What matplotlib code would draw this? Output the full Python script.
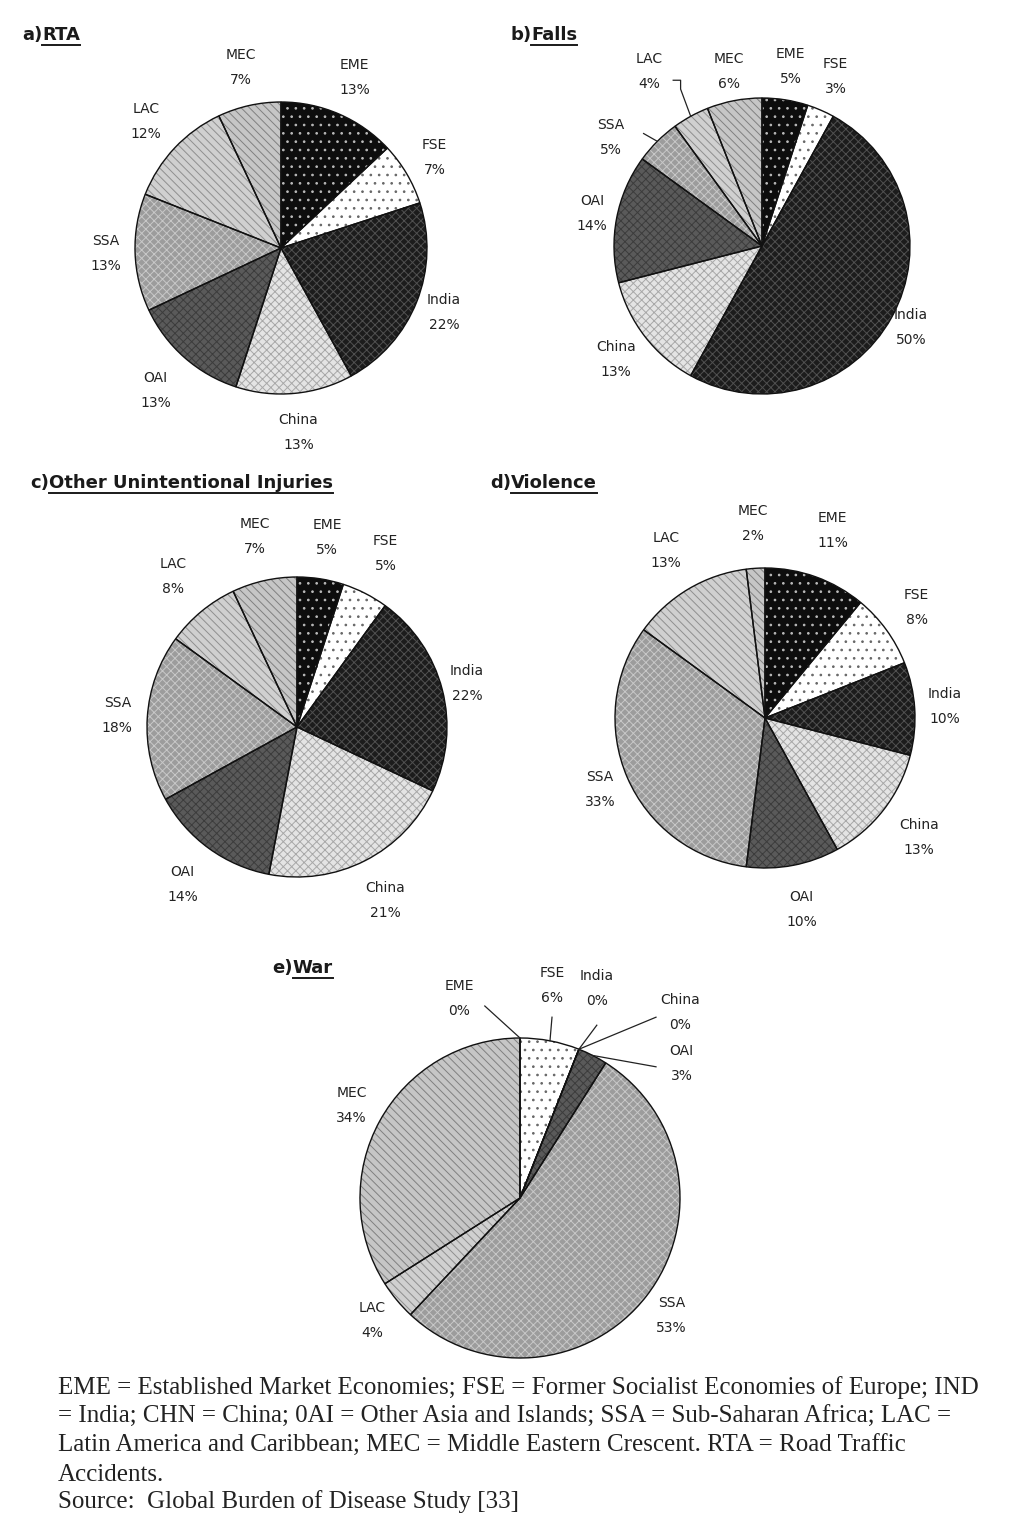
import numpy as np
import matplotlib
matplotlib.use('Agg')
from matplotlib import pyplot as plt
from matplotlib.lines import Line2D

W, H = 1015, 1530

regions = ['EME', 'FSE', 'India', 'China', 'OAI', 'SSA', 'LAC', 'MEC']

rta = [13, 7, 22, 13, 13, 13, 12, 7]
falls = [5, 3, 50, 13, 14, 5, 4, 6]
other_unint = [5, 5, 22, 21, 14, 18, 8, 7]
violence = [11, 8, 10, 13, 10, 33, 13, 2]
war = [0, 6, 0, 0, 3, 53, 4, 34]

panel_tags = ['a)', 'b)', 'c)', 'd)', 'e)']
panel_names = ['RTA', 'Falls', 'Other Unintentional Injuries', 'Violence', 'War']

notes = [
    'EME = Established Market Economies; FSE = Former Socialist Economies of Europe; IND',
    '= India; CHN = China; 0AI = Other Asia and Islands; SSA = Sub-Saharan Africa; LAC =',
    'Latin America and Caribbean; MEC = Middle Eastern Crescent. RTA = Road Traffic',
    'Accidents.',
    'Source:  Global Burden of Disease Study [33]',
]

# face colour, hatch, hatch colour for each region
fills = [
    ('#0d0d0d', '..', '#bbbbbb'),
    ('#ffffff', '..', '#666666'),
    ('#1c1c1c', 'xxxx', '#505050'),
    ('#e4e4e4', 'xxxx', '#a8a8a8'),
    ('#5a5a5a', 'xxxx', '#3c3c3c'),
    ('#9c9c9c', 'xxxx', '#c8c8c8'),
    ('#d0d0d0', '\\\\\\\\', '#8f8f8f'),
    ('#c6c6c6', '\\\\\\\\', '#808080'),
]

plt.rcParams['hatch.linewidth'] = 0.7

fig = plt.figure(figsize=(W / 100, H / 100), dpi=100)


def draw_pie(vals, cx, cy, r, ldist, moved, leaders):
    S = 1.7 * r
    ax = fig.add_axes([(cx - S) / W, 1 - (cy + S) / H, 2 * S / W, 2 * S / H])
    vals = np.array(vals, dtype=float)
    wedges, _ = ax.pie(vals, startangle=90, counterclock=False, radius=1,
                       wedgeprops=dict(linewidth=0))
    for w, (fc, hatch, hc) in zip(wedges, fills):
        w.set_facecolor(fc)
        w.set_hatch(hatch)
        w.set_edgecolor(hc)
    ax.pie(vals, startangle=90, counterclock=False, radius=1, colors=['none'] * len(vals),
           wedgeprops=dict(linewidth=1.0, edgecolor='#111111'))
    ax.set_xlim(-S / r, S / r)
    ax.set_ylim(-S / r, S / r)
    ax.axis('off')

    frac = vals / vals.sum()
    mid = np.cumsum(frac) - frac / 2
    for i, name in enumerate(regions):
        ang = np.deg2rad(90 - 360 * mid[i])
        d = ldist[i] if np.ndim(ldist) else ldist
        pos = (d * np.cos(ang), d * np.sin(ang))
        if i in moved:
            pos = moved[i]
        ax.text(pos[0], pos[1], f'{name}\n{int(vals[i])}%', ha='center', va='center',
                fontsize=10, linespacing=2.0, clip_on=False, color='#222222')
        if i in leaders:
            pts = leaders[i]
            xs = [np.cos(ang)] + [p[0] for p in pts]
            ys = [np.sin(ang)] + [p[1] for p in pts]
            ax.plot(xs, ys, color='#222222', lw=0.9, clip_on=False)
    return ax


draw_pie(rta, 281, 248, 146, [1.27, 1.22, 1.2, 1.27, 1.3, 1.2, 1.27, 1.27], {}, {})
draw_pie(falls, 762, 246, 148, [1.23, 1.25, 1.15, 1.25, 1.17, 1.25, 1.25, 1.2],
         {5: (-1.02, 0.73), 6: (-0.76, 1.18)},
         {5: [(-0.8, 0.76)], 6: [(-0.55, 1.06), (-0.55, 1.12), (-0.6, 1.12)]})
draw_pie(other_unint, 297, 727, 150, [1.28, 1.3, 1.17, 1.3, 1.3, 1.2, 1.3, 1.3], {}, {})
draw_pie(violence, 765, 718, 150, [1.33, 1.25, 1.2, 1.3, 1.3, 1.2, 1.3, 1.3], {}, {})
draw_pie(war, 520, 1198, 160, [1.2] * 8,
         {0: (-0.38, 1.25), 1: (0.2, 1.33), 2: (0.48, 1.31), 3: (1.0, 1.16), 4: (1.01, 0.84)},
         {0: [(-0.22, 1.2)], 1: [(0.2, 1.13)], 2: [(0.48, 1.08)],
          3: [(0.85, 1.13)], 4: [(0.85, 0.82)]})

# panel headings: tag followed by an underlined name
title_pos = [(22, 35), (510, 35), (30, 483), (490, 483), (272, 968)]
renderer = fig.canvas.get_renderer()
for tag, name, (tx, ty) in zip(panel_tags, panel_names, title_pos):
    t1 = fig.text(tx / W, 1 - ty / H, tag, fontsize=13, fontweight='bold',
                  family='DejaVu Sans', va='center', ha='left', color='#1a1a1a')
    bb = t1.get_window_extent(renderer)
    t2 = fig.text(bb.x1 / W, 1 - ty / H, name, fontsize=13, fontweight='bold',
                  family='DejaVu Sans', va='center', ha='left', color='#1a1a1a')
    bb2 = t2.get_window_extent(renderer)
    yl = (bb2.y0 - 1) / H
    fig.add_artist(Line2D([bb2.x0 / W, bb2.x1 / W], [yl, yl], color='#1a1a1a', lw=1.4))

note_y = [1388, 1417, 1446, 1475, 1502]
for line, y in zip(notes, note_y):
    fig.text(58 / W, 1 - y / H, line, fontsize=18, family='Liberation Serif',
             va='center', ha='left', color='#222222')

fig.savefig('out.png', dpi=100)
